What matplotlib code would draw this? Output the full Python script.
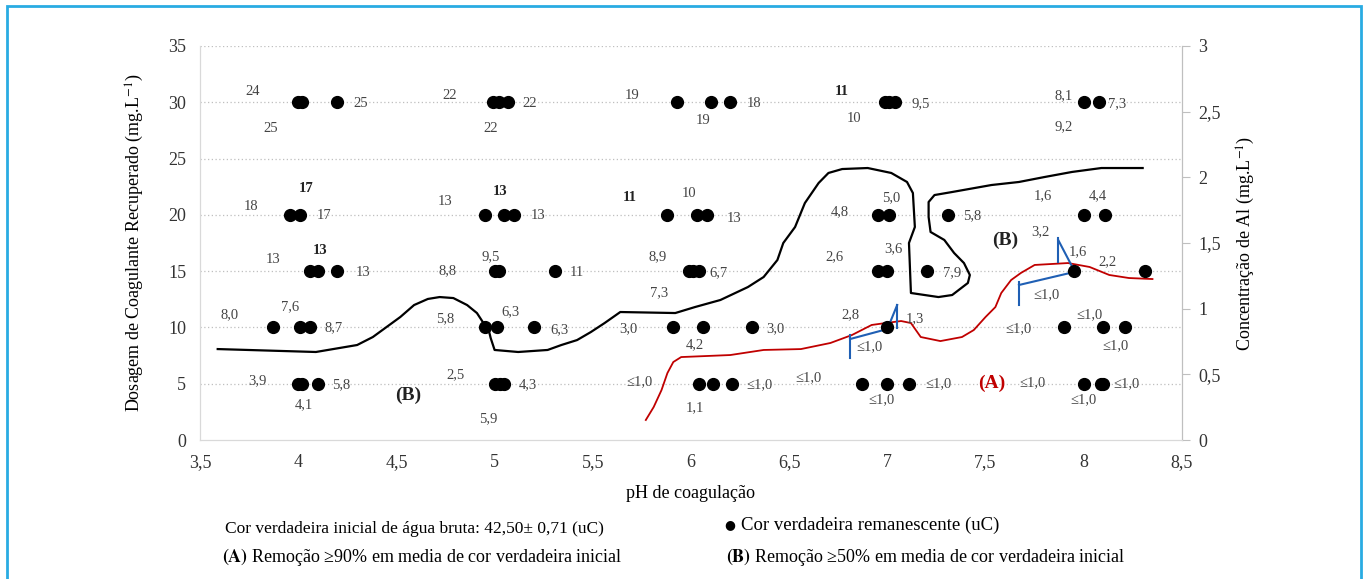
import matplotlib
matplotlib.use('Agg')
import matplotlib.pyplot as plt
from matplotlib.ticker import FuncFormatter, MultipleLocator
import matplotlib.patches as mpatches

plt.rcParams['font.family'] = ['Liberation Serif', 'DejaVu Serif']
plt.rcParams['mathtext.fontset'] = 'stix'

# pH of the remaining-colour points, one list per coagulant dosage (mg/L)
dose_levels = [5, 10, 15, 20, 30]
ph_d5 = [4.00, 4.02, 4.10, 5.00, 5.03, 5.05, 6.04, 6.11, 6.21, 6.87, 7.00, 7.11, 8.00, 8.09, 8.10]
ph_d10 = [3.87, 4.01, 4.06, 4.95, 5.01, 5.20, 5.91, 6.06, 6.31, 7.00, 7.90, 8.10, 8.21]
ph_d15 = [4.06, 4.10, 4.20, 5.00, 5.02, 5.31, 5.99, 6.01, 6.04, 6.95, 7.00, 7.20, 7.95, 8.31]
ph_d20 = [3.96, 4.01, 4.95, 5.05, 5.10, 5.88, 6.03, 6.08, 6.95, 7.01, 7.31, 8.00, 8.11]
ph_d30 = [4.00, 4.02, 4.20, 4.99, 5.02, 5.07, 5.93, 6.10, 6.20, 6.99, 7.01, 7.04, 8.00, 8.08]
ph_rows = [ph_d5, ph_d10, ph_d15, ph_d20, ph_d30]

# value labels (remaining true colour, uC) and where they sit (pH, dosage)
label_text = ['24', '25', '25', '22', '22', '22', '19', '19', '18', '11', '10', '9,5', '8,1', '9,2', '7,3',
              '18', '17', '17', '13', '13', '13', '11', '10', '13', '4,8', '5,0', '5,8', '1,6', '4,4',
              '13', '13', '13', '8,8', '9,5', '11', '8,9', '6,7', '7,3', '2,6', '3,6', '7,9', '3,2', '1,6', '2,2',
              '8,0', '7,6', '8,7', '5,8', '6,3', '6,3', '3,0', '4,2', '3,0', '2,8', '1,3',
              '≤1,0', '≤1,0', '≤1,0', '≤1,0', '≤1,0',
              '3,9', '4,1', '5,8', '2,5', '4,3', '5,9', '≤1,0', '1,1', '≤1,0', '≤1,0', '≤1,0', '≤1,0',
              '≤1,0', '≤1,0', '≤1,0']
label_ph = [3.77, 3.86, 4.32, 4.77, 4.98, 5.18, 5.70, 6.06, 6.32, 6.77, 6.83, 7.17, 7.90, 7.90, 8.17,
            3.76, 4.04, 4.13, 4.75, 5.03, 5.22, 5.69, 5.99, 6.22, 6.76, 7.02, 7.43, 7.79, 8.07,
            3.87, 4.11, 4.33, 4.76, 4.98, 5.42, 5.83, 6.14, 5.84, 6.73, 7.03, 7.33, 7.78, 7.97, 8.12,
            3.65, 3.96, 4.18, 4.75, 5.08, 5.33, 5.68, 6.02, 6.43, 6.81, 7.14,
            7.67, 8.03, 8.16, 6.91, 7.81,
            3.79, 4.03, 4.22, 4.80, 5.17, 4.97, 5.74, 6.02, 6.35, 6.60, 6.97, 7.26,
            7.74, 8.00, 8.22]
label_dose = [31.0, 27.7, 29.9, 30.6, 27.7, 29.9, 30.6, 28.4, 29.9, 31.0, 28.6, 29.9, 30.6, 27.8, 29.9,
              20.7, 22.3, 19.9, 21.2, 22.1, 19.9, 21.5, 21.9, 19.7, 20.3, 21.5, 19.9, 21.7, 21.7,
              16.0, 16.8, 14.9, 15.0, 16.3, 14.9, 16.3, 14.9, 13.1, 16.3, 17.0, 14.9, 18.5, 16.7, 15.8,
              11.1, 11.8, 9.95, 10.75, 11.4, 9.8, 9.86, 8.5, 9.86, 11.1, 10.8,
              9.86, 11.1, 8.35, 8.26, 12.9,
              5.3, 3.1, 4.9, 5.8, 4.9, 1.9, 5.15, 2.85, 4.9, 5.5, 3.55, 5.0,
              5.05, 3.55, 5.0]
bold_labels = {9, 16, 19, 21, 30}

# hand-drawn region (B): removal >= 50 %
b_ph = [3.59, 4.09, 4.30, 4.38, 4.45, 4.52, 4.59, 4.66, 4.72, 4.79, 4.86, 4.91, 4.94, 4.97, 4.98, 5.00,
        5.12, 5.27, 5.34, 5.42, 5.49, 5.56, 5.64, 5.92, 6.02, 6.15, 6.29, 6.37, 6.44, 6.47, 6.53, 6.58,
        6.65, 6.70, 6.77, 6.90, 7.02, 7.10, 7.13, 7.14, 7.11, 7.12, 7.26, 7.33, 7.41, 7.42, 7.39, 7.34,
        7.29, 7.22, 7.21, 7.21, 7.24, 7.33, 7.53, 7.67, 7.80, 7.94, 8.09, 8.30]
b_dose = [8.08, 7.82, 8.44, 9.15, 10.04, 10.93, 11.99, 12.53, 12.70, 12.61, 11.99, 11.28, 10.48, 9.77, 9.06, 8.0,
          7.82, 8.0, 8.44, 8.88, 9.59, 10.39, 11.37, 11.28, 11.81, 12.44, 13.59, 14.48, 15.99, 17.5, 18.92, 21.05,
          22.83, 23.72, 24.07, 24.16, 23.72, 22.92, 21.94, 18.92, 17.5, 13.06, 12.70, 12.88, 13.95, 14.66, 15.72, 16.61,
          17.77, 18.48, 19.81, 21.14, 21.76, 22.03, 22.65, 22.92, 23.36, 23.81, 24.16, 24.16]

# hand-drawn region (A): removal >= 90 %
a_ph = [5.77, 5.81, 5.85, 5.88, 5.91, 5.95, 6.20, 6.37, 6.56, 6.71, 6.82, 6.92, 6.99, 7.07, 7.12,
        7.17, 7.27, 7.38, 7.44, 7.50, 7.55, 7.58, 7.63, 7.68, 7.75, 7.92, 8.03, 8.13, 8.23, 8.35]
a_dose = [1.78, 2.93, 4.44, 5.95, 6.93, 7.37, 7.55, 8.0, 8.08, 8.62, 9.33, 10.22, 10.39, 10.57, 10.39,
          9.15, 8.79, 9.15, 9.77, 10.93, 11.81, 13.06, 14.21, 14.84, 15.55, 15.72, 15.37, 14.66, 14.39, 14.30]

# blue callout marks (Al concentration pointers)
blue_ph = [[6.81, 6.81], [6.81, 7.00, 7.05], [7.05, 7.05],
           [7.67, 7.67], [7.67, 7.95], [7.87, 7.87], [7.87, 7.95]]
blue_dose = [[9.33, 7.28], [8.97, 9.86, 11.99], [11.99, 9.95],
             [14.04, 11.99], [13.77, 14.92], [17.94, 15.81], [17.77, 15.1]]

fig = plt.figure(figsize=(13.71, 5.79), dpi=100)
ax1 = fig.add_axes([0.1459, 0.240, 0.7162, 0.6806])
ax2 = ax1.twinx()

comma = FuncFormatter(lambda v, p: ('%g' % v).replace('.', ','))

for y in range(5, 36, 5):
    ax1.axhline(y, color='#bfbfbf', linestyle=(0, (1, 2)), linewidth=0.9, zorder=0)

ax1.plot(b_ph, b_dose, color='black', linewidth=1.6, zorder=2)
ax1.plot(a_ph, a_dose, color='#c00000', linewidth=1.3, zorder=2)
for xs, ys in zip(blue_ph, blue_dose):
    ax1.plot(xs, ys, color='#1f5fb4', linewidth=1.5, zorder=3)

for dose, phs in zip(dose_levels, ph_rows):
    ax1.plot(phs, [dose] * len(phs), 'o', color='black', markersize=8.5, zorder=4)

for i, (t, x, y) in enumerate(zip(label_text, label_ph, label_dose)):
    ax1.text(x, y, t, ha='center', va='center', fontsize=10.5,
             color='#222222' if i in bold_labels else '#444444',
             fontweight='bold' if i in bold_labels else 'normal', zorder=5)

ax1.text(7.53, 5.06, '(A)', color='#c00000', fontsize=14, fontweight='bold', ha='center', va='center')
ax1.text(4.56, 4.0, '(B)', color='#222222', fontsize=14, fontweight='bold', ha='center', va='center')
ax1.text(7.60, 17.7, '(B)', color='#222222', fontsize=14, fontweight='bold', ha='center', va='center')

ax1.set_xlim(3.5, 8.5)
ax1.set_ylim(0, 35)
ax1.xaxis.set_major_locator(MultipleLocator(0.5))
ax1.yaxis.set_major_locator(MultipleLocator(5))
ax1.xaxis.set_major_formatter(comma)
ax1.tick_params(axis='both', length=0, labelsize=13, colors='#333333', pad=10)
ax1.set_xlabel('pH de coagulação', fontsize=13, labelpad=10)
ax1.set_ylabel(r'Dosagem de Coagulante Recuperado (mg.L$^{-1}$)', fontsize=13, labelpad=16)

ax2.set_ylim(0, 3)
ax2.yaxis.set_major_locator(MultipleLocator(0.5))
ax2.yaxis.set_major_formatter(comma)
ax2.tick_params(axis='y', length=6, width=0.8, color='#bfbfbf', labelsize=13, labelcolor='#333333', pad=6)
ax2.set_ylabel(r'Concentração de Al (mg.L$^{-1}$)', fontsize=13, labelpad=10)

for ax in (ax1, ax2):
    ax.spines['top'].set_visible(False)
    ax.spines['left'].set_color('#d9d9d9')
    ax.spines['bottom'].set_color('#d9d9d9')
    ax.spines['right'].set_color('#bfbfbf')

# bottom notes
fig.text(225 / 1371, 1 - 529 / 579, 'Cor verdadeira inicial de água bruta: 42,50± 0,71 (uC)',
         fontsize=12.5, va='center', ha='left')
fig.text(724 / 1371, 1 - 525 / 579, '●', fontsize=9, va='center', ha='left',
         family=['DejaVu Sans'])
fig.text(741 / 1371, 1 - 525 / 579, 'Cor verdadeira remanescente (uC)',
         fontsize=13.5, va='center', ha='left')
fig.text(222 / 1371, 1 - 557 / 579, r'$\mathbf{(A)}$ Remoção ≥90% em media de cor verdadeira inicial',
         fontsize=13, va='center', ha='left')
fig.text(726 / 1371, 1 - 557 / 579, r'$\mathbf{(B)}$ Remoção ≥50% em media de cor verdadeira inicial',
         fontsize=13, va='center', ha='left')

border = mpatches.Rectangle((7 / 1371, -0.02), (1361 - 7) / 1371, 1.0 - 6 / 579 + 0.02,
                            transform=fig.transFigure, fill=False, edgecolor='#29abe2',
                            linewidth=2, clip_on=False)
fig.patches.append(border)

fig.savefig('out.png', dpi=100)
